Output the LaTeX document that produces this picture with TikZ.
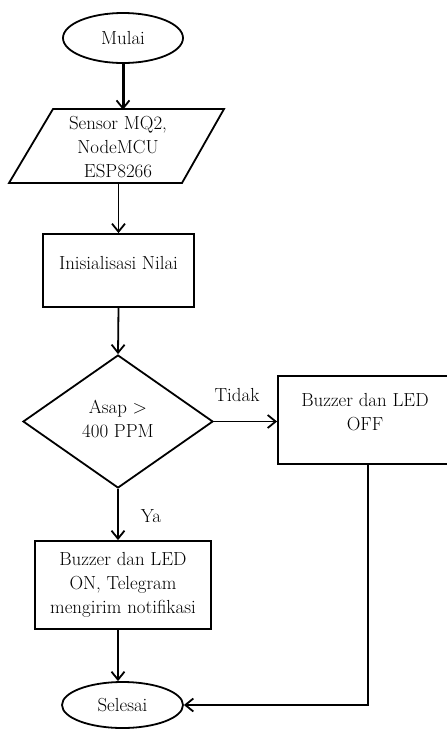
\documentclass[tikz,border=0pt]{standalone}
\usetikzlibrary{shapes.geometric,arrows.meta}
\tikzset{
  base/.style={font=\fontsize{18.9}{24}\selectfont, line width=1.8pt, inner sep=0pt, align=center},
  term/.style={base, draw, ellipse},
  procbox/.style={base, draw, rectangle},
  txt/.style={font=\fontsize{18.9}{24}\selectfont, inner sep=0pt, align=center},
  decis/.style={base, draw, diamond},
  conn/.style={line width=1.8pt, -{Straight Barb[length=8pt,width=13pt,line width=1.8pt]}},
  plain/.style={line width=1.8pt}
}
\begin{document}
\begin{tikzpicture}[x=1pt,y=-1pt]
\useasboundingbox (0,0) rectangle (447,729);
\clip (0,0) rectangle (447,729);
% nodes
\node[term, minimum width=120, minimum height=50] (mulai) at (123,38) {Mulai};
\draw[plain] (9,183) -- (53,109) -- (224,109) -- (182,183) -- cycle;
\node[txt, minimum width=130, minimum height=74] (inp) at (118,147) {Sensor MQ2,\\NodeMCU\\ESP8266};
\node[procbox, minimum width=151, minimum height=73] (init) at (118.5,270.5) {};
\node[txt] (initT) at (118.5,263) {Inisialisasi Nilai};
\node[decis, minimum width=190, minimum height=133] (dec) at (118,421.5) {};
\node[txt] (decT) at (118,418.5) {Asap >\\400 PPM};
\node[procbox, minimum width=172, minimum height=88] (off) at (364,420) {};
\node[txt] (offT) at (365,412.5) {Buzzer dan LED\\OFF};
\node[procbox, minimum width=176, minimum height=88] (on) at (123,585) {Buzzer dan LED\\ON, Telegram\\mengirim notifikasi};
\node[term, minimum width=121, minimum height=46] (sel) at (122.5,705) {Selesai};
\node[txt] (tidak) at (237,395) {Tidak};
\node[txt] (ya) at (151,516) {Ya};
% connectors
\draw[conn, line width=3pt] (mulai.south) -- (mulai.south |- inp.north);
\draw[conn] (inp.south -| init.north) -- (init.north);
\draw[conn] (init.south) -- (dec.north);
\draw[conn] (dec.east) -- (dec.east -| off.west);
\draw[conn] (dec.south) -- (dec.south |- on.north);
\draw[conn] (on.south -| dec.south) -- (sel.north -| dec.south);
\draw[conn] ([xshift=4pt]off.south) |- (sel.east);
\end{tikzpicture}
\end{document}
